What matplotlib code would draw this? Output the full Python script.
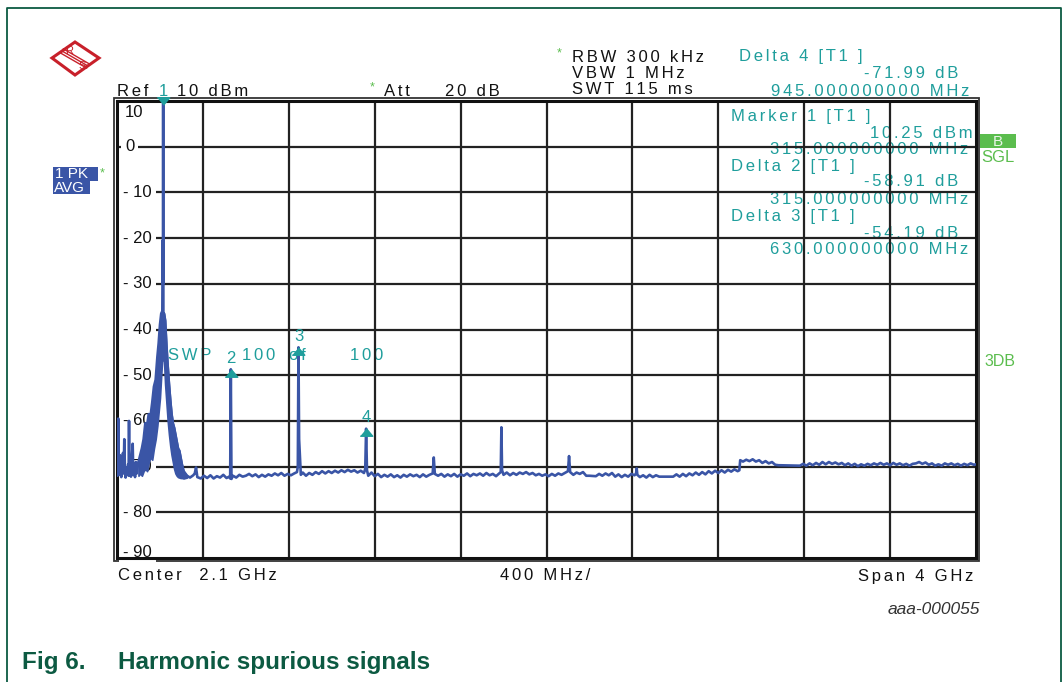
import numpy as np
import matplotlib
matplotlib.use('Agg')
import matplotlib.pyplot as plt
import matplotlib.transforms as mtransforms
from matplotlib.patches import Rectangle, Polygon
from matplotlib import font_manager

W, H = 1063, 682

installed = {f.name for f in font_manager.fontManager.ttflist}
base = 'Liberation Sans' if 'Liberation Sans' in installed else 'DejaVu Sans'
plt.rcParams['font.family'] = [base, 'DejaVu Sans']

# ---- data (MHz, dBm) ----
low_trace = [(100, -70.8), (102, -72.0), (104, -66.5), (106, -59.5), (108, -70.5),
             (111, -71.8), (114, -67.5), (117, -71.2), (120, -72.3), (124, -69.0),
             (128, -67.0), (131, -71.5), (134, -64.0), (137, -71.0), (140, -72.4),
             (144, -70.2), (148, -71.8), (152, -69.5), (154, -72.0), (156, -60.0),
             (158, -71.6), (161, -70.4), (165, -72.2), (169, -68.0), (173, -65.0),
             (176, -71.8), (180, -70.0), (184, -72.3), (188, -69.0), (192, -71.5),
             (196, -70.0)]

# carrier skirt (peak-hold envelope)
skirt_mhz = [200, 208, 216, 224, 232, 240, 248, 256, 264, 272, 280, 288, 294, 300, 306, 311,
             319, 324, 330, 336, 342, 348, 354, 360, 366, 372, 378, 384, 390, 396, 402, 410, 418, 426]
skirt_hi = [-69.0, -67.5, -66.0, -64.0, -60.5, -61.0, -58.5, -59.0, -56.0, -52.5, -51.0, -46.0,
            -43.0, -39.0, -36.5, -36.0,
            -36.5, -38.0, -43.5, -48.0, -52.0, -55.5, -58.5, -60.5, -61.5, -63.0, -64.5, -66.0,
            -66.5, -68.0, -69.5, -71.0, -71.5, -72.0]
skirt_lo = [-72.0, -71.5, -72.0, -71.0, -70.5, -71.0, -69.0, -68.0, -68.5, -66.0, -64.0, -61.0,
            -58.0, -55.0, -50.0, -46.0,
            -47.0, -52.0, -56.0, -60.0, -63.0, -65.5, -67.5, -69.0, -70.5, -71.5, -72.0, -72.3,
            -72.4, -72.5, -72.5, -72.6, -72.5, -72.4]
carrier_trace = [(313, -20.5), (314, -30.0), (315, 10.25), (316, -36.5)]

floor_a = [(440, -72.4), (455, -71.9), (462, -71.5), (468, -70.2), (474, -72.3), (490, -72.6),
           (505, -72.0), (520, -72.5), (535, -71.9), (550, -72.6), (565, -72.1), (580, -72.4),
           (595, -71.8), (610, -72.5), (622, -72.2), (627, -72.6), (630, -48.7), (633, -72.7),
           (640, -72.0), (655, -72.4), (670, -71.8), (685, -72.2), (700, -72.0), (715, -71.6),
           (730, -72.1), (745, -71.7), (760, -72.3), (775, -71.8), (790, -72.2), (805, -71.7),
           (820, -72.0), (835, -71.5), (850, -71.9), (865, -71.4), (880, -72.0), (895, -71.6),
           (910, -71.9), (925, -71.5), (938, -71.2), (942, -70.0), (945, -43.9), (948, -64.0),
           (952, -68.0), (956, -71.8), (965, -71.3), (980, -72.0), (995, -71.4), (1010, -71.8),
           (1025, -71.2), (1040, -71.6), (1055, -71.0), (1070, -71.5), (1085, -71.0), (1100, -71.4),
           (1115, -70.9), (1130, -71.3), (1145, -70.8), (1160, -71.2), (1175, -70.7), (1190, -71.1),
           (1205, -70.8), (1220, -71.3), (1235, -70.9), (1250, -71.4), (1256, -70.5), (1260, -61.7),
           (1264, -70.8), (1270, -72.0)]

floor_b = [(1285, -71.3), (1300, -72.1), (1315, -71.6), (1330, -72.3), (1345, -71.8), (1360, -72.2),
           (1375, -71.7), (1390, -72.3), (1405, -71.9), (1420, -72.4), (1435, -71.8), (1450, -72.2),
           (1465, -71.7), (1480, -72.1), (1495, -71.8), (1510, -72.3), (1525, -71.7), (1540, -72.2),
           (1555, -71.8), (1570, -71.5), (1575, -68.0), (1580, -71.6), (1595, -72.0), (1610, -71.6),
           (1625, -72.2), (1640, -71.7), (1655, -72.1), (1670, -71.6), (1685, -72.2), (1700, -71.7),
           (1715, -72.0), (1730, -71.5), (1745, -72.1), (1760, -71.6), (1775, -71.9), (1790, -71.5),
           (1805, -72.0), (1820, -71.4), (1835, -71.9), (1850, -71.6), (1865, -72.1), (1880, -71.5),
           (1887, -71.2), (1890, -61.4), (1893, -70.8), (1900, -71.8), (1915, -71.3), (1930, -71.9),
           (1945, -71.4), (1960, -71.8), (1975, -71.3), (1990, -71.6), (2005, -71.2), (2020, -71.7),
           (2035, -71.4), (2050, -71.9), (2065, -71.6), (2080, -72.0), (2095, -71.7), (2110, -72.1),
           (2125, -71.6), (2140, -72.0), (2155, -71.5), (2170, -71.8), (2185, -71.4), (2200, -71.0)]

floor_c = [(2205, -67.7), (2210, -71.2), (2225, -71.8), (2240, -71.3), (2255, -71.6), (2270, -71.2),
           (2285, -72.0), (2300, -72.0), (2330, -72.1), (2345, -71.6), (2360, -72.0), (2375, -71.5),
           (2390, -71.9), (2405, -71.4), (2420, -72.2), (2435, -71.7), (2450, -72.3), (2465, -71.8),
           (2480, -72.2), (2495, -71.6), (2510, -71.9), (2517, -71.5), (2520, -70.4), (2523, -71.8),
           (2535, -72.3), (2550, -71.9), (2565, -72.4), (2580, -71.8), (2595, -72.3), (2610, -71.9),
           (2625, -72.2), (2690, -72.2), (2705, -71.7), (2720, -72.2), (2735, -71.6), (2750, -72.1),
           (2765, -71.5), (2780, -71.9), (2795, -71.3), (2810, -71.8), (2825, -71.2), (2840, -71.7),
           (2855, -71.0), (2870, -71.5), (2885, -70.9), (2900, -71.4), (2915, -70.8), (2930, -71.3),
           (2945, -70.7), (2960, -71.1), (2975, -70.6), (2990, -71.0), (2998, -70.8)]

floor_d = [(3002, -68.6), (3015, -68.9), (3030, -68.5), (3045, -68.8), (3060, -68.4), (3075, -68.9),
           (3090, -68.6), (3105, -69.2), (3120, -68.8), (3135, -69.3), (3150, -69.0), (3165, -69.6),
           (3180, -69.7), (3280, -69.8), (3295, -69.4), (3310, -69.8), (3325, -69.3), (3340, -69.7),
           (3355, -69.2), (3370, -69.6), (3385, -69.0), (3400, -69.5), (3415, -69.0), (3430, -69.4),
           (3445, -69.1), (3460, -69.5), (3475, -69.2), (3490, -69.7), (3505, -69.3), (3520, -69.8),
           (3535, -69.4), (3550, -69.9), (3565, -69.5), (3580, -69.8), (3595, -69.4), (3610, -69.7),
           (3625, -69.3), (3640, -69.6), (3655, -69.2), (3670, -69.6), (3685, -69.3), (3700, -69.7),
           (3715, -69.2), (3730, -69.6), (3745, -69.3), (3760, -69.7), (3775, -69.4), (3790, -69.8),
           (3805, -69.4), (3820, -69.3), (3835, -69.0), (3850, -69.4), (3865, -69.1), (3880, -69.6),
           (3895, -69.3), (3910, -69.8), (3925, -69.5), (3940, -69.8), (3955, -69.3), (3970, -69.6),
           (3985, -69.3), (4000, -69.7), (4015, -69.4), (4030, -69.8), (4045, -69.4), (4060, -69.7),
           (4075, -69.3), (4090, -69.6), (4100, -69.5)]

# marker readouts
mk1_mhz, mk1_dbm = 315.0, 10.25
delta_ids = [2, 3, 4]
delta_db = [-58.91, -54.19, -71.99]
delta_mhz = [315.0, 630.0, 945.0]

ylab_text = ['10', '0', '- 10', '- 20', '- 30', '- 40', '- 50', '- 60', '- 70', '- 80', '- 90']

BLUE = '#3a55a6'
TEAL = '#1f9e9c'
GREEN = '#5bbd4e'
DKGREEN = '#0c5a42'
TXT = '#111111'
FS = 12


def sp(s):
    return '\u2006'.join(s)


fig = plt.figure(figsize=(W / 100, H / 100), dpi=100)
fig.patch.set_facecolor('white')
px = mtransforms.Affine2D().scale(1 / W, -1 / H).translate(0, 1) + fig.transFigure

ov = fig.add_axes([0, 0, 1, 1], zorder=0)
ov.set_xlim(0, W)
ov.set_ylim(H, 0)
ov.axis('off')

ax = fig.add_axes([117 / W, 1 - 558 / H, 859 / W, 457 / H], zorder=1)
ax.set_facecolor('none')
ax.set_xlim(100, 4100)
ax.set_ylim(-90, 10)
ax.set_xticks([])
ax.set_yticks([])
for s in ax.spines.values():
    s.set_linewidth(2.2)
    s.set_color('#111111')

for x in np.arange(500, 4100, 400):
    ax.axvline(x, color='#222222', lw=1.6, zorder=1)
for y in np.arange(-80, 10, 10):
    ax.axhline(y, color='#222222', lw=1.6, zorder=1)

# outer second frame line
ov.add_patch(Rectangle((114, 98), 865, 463, fill=False, lw=1.3, ec='#333333'))

# y labels inside the grid
lab_tf = mtransforms.blended_transform_factory(px, ax.transData)
ylab_pos = [7.4, 0, -10, -20, -30, -40, -50, -60, -70, -80, -88.7]
for t, p in zip(ylab_text, ylab_pos):
    ax.text(123 if t[0] == '-' else 125, p, t, transform=lab_tf, ha='left', va='center',
            fontsize=FS, color=TXT, zorder=2,
            bbox=dict(fc='white', ec='none', boxstyle='square,pad=0.25'))

# trace
segs = [low_trace, carrier_trace, floor_a, floor_b, floor_c, floor_d]
f_all = np.concatenate([np.array(s)[:, 0] for s in segs] + [skirt_mhz])
l_all = np.concatenate([np.array(s)[:, 1] for s in segs] + [skirt_hi])
order = np.argsort(f_all, kind='stable')
ax.fill_between(skirt_mhz, skirt_lo, skirt_hi, color=BLUE, lw=1.2, zorder=3)
ax.plot(f_all[order], l_all[order], color=BLUE, lw=1.9, zorder=3)

# markers
tri_up = [(-1, -0.6), (1, -0.6), (0, 0.6)]
tri_dn = [(-1, 0.6), (1, 0.6), (0, -0.6)]
mk_f = [mk1_mhz + d for d in delta_mhz]
mk_l = [mk1_dbm + d for d in delta_db]
below = mtransforms.offset_copy(ax.transData, fig=fig, y=-3.5, units='dots')
above = mtransforms.offset_copy(ax.transData, fig=fig, y=11, units='dots')
for i, f, l in zip(delta_ids, mk_f, mk_l):
    ax.plot(f, l, marker=tri_up, ms=9, color=TEAL, transform=below, zorder=4, clip_on=False)
    ax.text(f, l, str(i), transform=above, ha='center', va='center', color=TEAL,
            fontsize=FS, zorder=4)
ax.plot(mk1_mhz, 10, marker=tri_dn, ms=9, color=TEAL, zorder=4, clip_on=False)
ax.text(mk1_mhz, 91, '1', transform=mtransforms.blended_transform_factory(ax.transData, px),
        ha='center', va='center', color=TEAL, fontsize=FS, zorder=4)

# header
ov.text(117, 91, sp('Ref'), va='center', fontsize=FS, color=TXT)
ov.text(177, 91, sp('10 dBm'), va='center', fontsize=FS, color=TXT)
ov.text(370, 87, '*', va='center', fontsize=9, color=GREEN)
ov.text(384, 91, sp('Att'), va='center', fontsize=FS, color=TXT)
ov.text(445, 91, sp('20 dB'), va='center', fontsize=FS, color=TXT)
ov.text(557, 53, '*', va='center', fontsize=9, color=GREEN)
ov.text(572, 57, sp('RBW 300 kHz'), va='center', fontsize=FS, color=TXT)
ov.text(572, 74, sp('VBW 1 MHz'), va='center', fontsize=FS, color=TXT)
ov.text(572, 90, sp('SWT 115 ms'), va='center', fontsize=FS, color=TXT)

# marker readout table
readout = [(739, 57, 'Delta 4 [T1 ]', 'left'),
           (958, 74, '%.2f dB' % delta_db[2], 'right'),
           (969, 91, '%.9f MHz' % delta_mhz[2], 'right'),
           (731, 116, 'Marker 1 [T1 ]', 'left'),
           (973, 133, '%.2f dBm' % mk1_dbm, 'right'),
           (968, 150, '%.9f MHz' % mk1_mhz, 'right'),
           (731, 166, 'Delta 2 [T1 ]', 'left'),
           (958, 182, '%.2f dB' % delta_db[0], 'right'),
           (968, 199, '%.9f MHz' % delta_mhz[0], 'right'),
           (731, 217, 'Delta 3 [T1 ]', 'left'),
           (958, 233, '%.2f dB' % delta_db[1], 'right'),
           (968, 250, '%.9f MHz' % delta_mhz[1], 'right')]
for x, y, t, ha in readout:
    ov.text(x, y, sp(t), ha=ha, va='center', fontsize=FS, color=TEAL)

# sweep counter
for x, t in [(168, 'SWP'), (242, '100'), (289, 'of'), (350, '100')]:
    ov.text(x, 355, sp(t), va='center', fontsize=FS, color=TEAL)

# bottom
ov.text(118, 576, sp('Center  2.1 GHz'), va='center', fontsize=FS, color=TXT)
ov.text(500, 576, sp('400 MHz/'), va='center', fontsize=FS, color=TXT)
ov.text(973, 576, sp('Span 4 GHz'), ha='right', va='center', fontsize=FS, color=TXT)
ov.text(980, 610, 'aaa-000055', ha='right', va='center', fontsize=12.5, style='italic', color='#333333')
ov.text(22, 662, 'Fig 6.', va='center', fontsize=17.5, fontweight='bold', color=DKGREEN)
ov.text(118, 662, 'Harmonic spurious signals', va='center', fontsize=17.5, fontweight='bold', color=DKGREEN)

# left / right status boxes
ov.add_patch(Rectangle((53, 167), 45, 14, fc=BLUE, ec='none'))
ov.text(55, 174.5, '1 PK', va='center', fontsize=11, color='white')
ov.add_patch(Rectangle((53, 181), 37, 13, fc=BLUE, ec='none'))
ov.text(54, 188, 'AVG', va='center', fontsize=11, color='white')
ov.text(100, 173, '*', va='center', fontsize=9, color=GREEN)
ov.add_patch(Rectangle((980, 134), 36, 14, fc=GREEN, ec='none'))
ov.text(998, 142, 'B', ha='center', va='center', fontsize=11, color='#eaf6e8')
ov.text(981, 158, 'SGL', va='center', fontsize=12, color=GREEN)
ov.text(984, 362, '3DB', va='center', fontsize=11.5, color=GREEN)

# R&S logo
RED = '#c8202a'
ov.add_patch(Polygon([(52, 58), (75, 42), (99, 58), (75, 75)], closed=True, fill=False, ec=RED, lw=2.2))
for d in (-2.5, 0, 2.5):
    ov.plot([62 - d * 0.55, 88 - d * 0.55], [51 + d * 0.83, 66 + d * 0.83], color=RED, lw=1)
ov.text(69, 51, 'R', ha='center', va='center', fontsize=8, color=RED)
ov.text(82, 66, 'S', ha='center', va='center', fontsize=8, color=RED)

# page border
ov.plot([7, 7, 1061, 1061], [H, 8, 8, H], color=DKGREEN, lw=1.3)

fig.savefig('out.png', dpi=100, facecolor='white')
